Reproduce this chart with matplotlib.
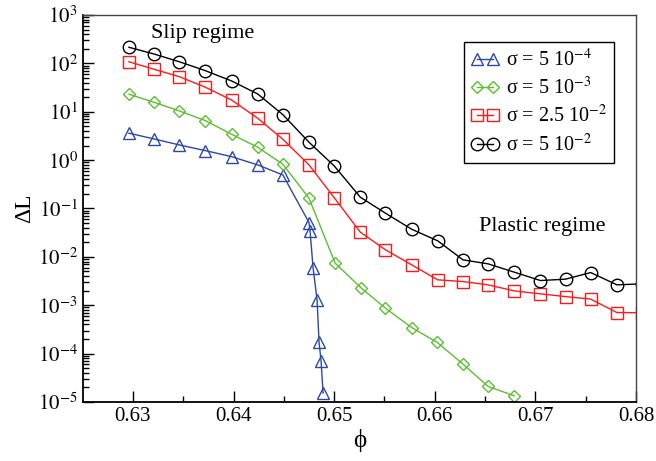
import math
import matplotlib
matplotlib.use('Agg')
import matplotlib.pyplot as plt
from matplotlib.ticker import FixedLocator, LogLocator, FuncFormatter, NullFormatter

plt.rcParams['font.family'] = ['Liberation Serif', 'DejaVu Serif']
plt.rcParams['mathtext.fontset'] = 'stix'

# volume fraction phi for the shared grid
phi_all = [0.6296, 0.6321, 0.6346, 0.6372, 0.6398, 0.6424, 0.6449, 0.6475,
           0.6500, 0.6526, 0.6551, 0.6577, 0.6603, 0.6628, 0.6653, 0.6679,
           0.6705, 0.6730, 0.6755, 0.6781, 0.6806]

# sigma = 5e-4
phi_a = [0.6296, 0.6321, 0.6346, 0.6372, 0.6398, 0.6424, 0.6449,
         0.6475, 0.6476, 0.6479, 0.6483, 0.6485, 0.6487, 0.6489]
dl_a = [3.60, 2.74, 2.06, 1.57, 1.18, 0.796, 0.494,
        0.0512, 0.0349, 0.00601, 0.00129, 1.70e-4, 6.9e-5, 1.53e-5]

# sigma = 5e-3
phi_b = [0.6296, 0.6321, 0.6346, 0.6372, 0.6398, 0.6424, 0.6449, 0.6475,
         0.6501, 0.6527, 0.6551, 0.6577, 0.6602, 0.6628, 0.6653, 0.6679]
dl_b = [23.0, 15.7, 10.4, 6.55, 3.43, 1.85, 0.822, 0.163,
        0.00741, 0.00226, 8.7e-4, 3.46e-4, 1.73e-4, 6.1e-5, 2.1e-5, 1.34e-5]

# sigma = 2.5e-2
dl_c = [108, 75.5, 53.1, 32.1, 17.5, 7.34, 2.70, 0.796,
        0.168, 0.0324, 0.0140, 0.00684, 0.00335, 0.00309, 0.00264, 0.00198,
        0.00172, 0.00151, 0.00134, 7.07e-4, 7.0e-4]

# sigma = 5e-2
dl_d = [215, 156, 108, 70.6, 43.3, 23.3, 8.7, 2.34,
        0.76, 0.171, 0.080, 0.0373, 0.0214, 0.00868, 0.00717, 0.00483,
        0.00324, 0.00346, 0.00474, 0.00264, 0.00277]

labels = [r'σ = 5 10$^{-4}$', r'σ = 5 10$^{-3}$',
          r'σ = 2.5 10$^{-2}$', r'σ = 5 10$^{-2}$']

x_major = [0.63, 0.64, 0.65, 0.66, 0.67, 0.68]
x_minor = [0.635, 0.645, 0.655, 0.665, 0.675]

fig = plt.figure(figsize=(6.56, 4.61), dpi=100)
ax = fig.add_axes([0.126, 0.128, 0.8435, 0.8395])

kw = dict(lw=1.0, mfc='none', mew=1.0)
ax.plot(phi_a, dl_a, '^-', color='#2c48a8', ms=8, label=labels[0], **kw)
ax.plot(phi_b, dl_b, 'D-', color='#5cbf32', ms=6, label=labels[1], **kw)
ax.plot(phi_all, dl_c, 's-', color='#ff1a1a', ms=8, label=labels[2], **kw)
ax.plot(phi_all, dl_d, 'o-', color='black', ms=9, label=labels[3], **kw)

ax.set_yscale('log')
ax.set_xlim(0.625, 0.68)
ax.set_ylim(1e-5, 1e3)

ax.xaxis.set_major_locator(FixedLocator(x_major))
ax.xaxis.set_minor_locator(FixedLocator(x_minor))
ax.xaxis.set_major_formatter(FuncFormatter(lambda v, p: f'{v:.2f}'))
ax.yaxis.set_major_locator(LogLocator(base=10, numticks=20))
ax.yaxis.set_minor_locator(LogLocator(base=10, subs=range(2, 10), numticks=20))
ax.yaxis.set_minor_formatter(NullFormatter())
ax.yaxis.set_major_formatter(FuncFormatter(lambda v, p: r'$10^{%d}$' % round(math.log10(v))))

ax.tick_params(which='both', direction='in', top=False, right=False, labelsize=15)
ax.tick_params(which='major', length=8, width=1)
ax.tick_params(which='minor', length=4, width=1)
for s in ['left', 'bottom']:
    ax.spines[s].set_linewidth(1.3)
for s in ['top', 'right']:
    ax.spines[s].set_linewidth(1.0)
    ax.spines[s].set_color('#444444')

ax.set_xlabel('ϕ', fontsize=18, labelpad=2)
ax.set_ylabel('ΔL', fontsize=17, labelpad=2)

ax.text(0.2174, 0.953, 'Slip regime', transform=ax.transAxes,
        ha='center', va='center', fontsize=16)
ax.text(0.831, 0.453, 'Plastic regime', transform=ax.transAxes,
        ha='center', va='center', fontsize=16)

leg = ax.legend(loc='upper right', bbox_to_anchor=(0.96, 0.93), numpoints=2,
                fontsize=14.5, frameon=True, fancybox=False, framealpha=1,
                edgecolor='black', handlelength=1.4, handletextpad=0.3,
                borderpad=0.35, labelspacing=0.3, borderaxespad=0)
leg.get_frame().set_linewidth(1.0)

fig.savefig('out.png', dpi=100)
